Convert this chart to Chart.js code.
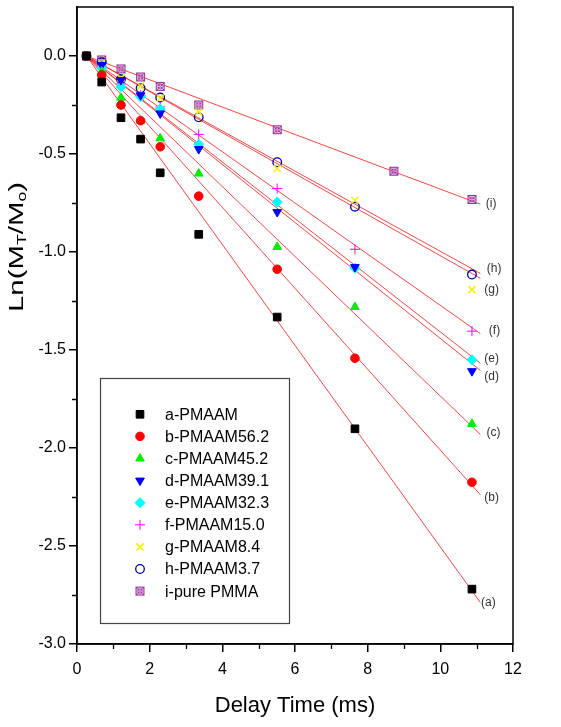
<!DOCTYPE html>
<html><head><meta charset="utf-8">
<script src="https://cdn.jsdelivr.net/npm/chart.js@4/dist/chart.umd.min.js"></script>
<style>html,body{margin:0;padding:0;background:#fff;}canvas{display:block;}</style>
</head><body>
<canvas id="c" width="561" height="727"></canvas>
<script>
// ---------- data ----------
const seriesNames = ['a-PMAAM','b-PMAAM56.2','c-PMAAM45.2','d-PMAAM39.1','e-PMAAM32.3','f-PMAAM15.0','g-PMAAM8.4','h-PMAAM3.7','i-pure PMMA'];
const curveTags = ['(a)','(b)','(c)','(d)','(e)','(f)','(g)','(h)','(i)'];
// delay positions as they sit on the drawn x axis
const delayX     = [0.26, 0.68, 1.21, 1.75, 2.29, 3.35, 5.51, 7.65, 10.87];
const delayXPmma = [0.26, 0.68, 1.21, 1.75, 2.29, 3.35, 5.51, 8.72, 10.87];
const valA = [0, -0.133, -0.315, -0.424, -0.596, -0.910, -1.332, -1.902, -2.720];
const valB = [0, -0.097, -0.250, -0.330, -0.463, -0.715, -1.088, -1.542, -2.175];
const valC = [0, -0.080, -0.213, -0.330, -0.420, -0.600, -0.974, -1.281, -1.877];
const valD = [0, -0.046, -0.123, -0.200, -0.293, -0.475, -0.796, -1.077, -1.608];
const valE = [0, -0.061, -0.157, -0.208, -0.271, -0.450, -0.745, -1.083, -1.550];
const valF = [0, -0.051, -0.143, -0.200, -0.260, -0.400, -0.676, -0.986, -1.404];
const valG = [0, -0.036, -0.112, -0.153, -0.215, -0.286, -0.574, -0.736, -1.192];
const valH = [0, -0.031, -0.118, -0.164, -0.212, -0.313, -0.542, -0.769, -1.115];
const valI = [0, -0.020, -0.066, -0.107, -0.155, -0.250, -0.376, -0.588, -0.732];
// linear fits: start / end
const fitStartX = 0.26;
const fitEndX = 11.1;
const fitEndY = [-2.788, -2.238, -1.931, -1.604, -1.567, -1.416, -1.134, -1.109, -0.756];
// curve tag anchors (data units)
const tagX = [11.32, 11.41, 11.46, 11.41, 11.41, 11.49, 11.41, 11.48, 11.40];
const tagY = [-2.791, -2.255, -1.923, -1.638, -1.546, -1.403, -1.194, -1.087, -0.755];
const xTickStep = 2, yTickStep = 0.5;
const xRange = [0, 12], yRange = [-3.0, 0.25];

// ---------- styles ----------
const allVals = [valA,valB,valC,valD,valE,valF,valG,valH,valI];
const allX = [delayX,delayX,delayX,delayX,delayX,delayX,delayX,delayX,delayXPmma];

function pmmaMarker(){
  const c = document.createElement('canvas'); c.width = 11; c.height = 11;
  const g = c.getContext('2d');
  g.strokeStyle = '#993399'; g.lineWidth = 1;
  g.fillStyle = 'rgba(235,190,235,0.45)';
  g.fillRect(1,1,9,9);
  g.strokeRect(1.5,1.5,8,8);
  g.beginPath(); g.moveTo(1.5,1.5); g.lineTo(9.5,9.5); g.moveTo(9.5,1.5); g.lineTo(1.5,9.5); g.stroke();
  g.beginPath(); g.arc(5.5,5.5,2.5,0,Math.PI*2); g.stroke();
  return c;
}
const markerStyles = [
  {pointStyle:'rect', radius:5.4, rotation:0, fill:'#000000', stroke:'#000000', bw:1},
  {pointStyle:'circle', radius:4.3, rotation:0, fill:'#ff0000', stroke:'#ff0000', bw:1},
  {pointStyle:'triangle', radius:5, rotation:0, fill:'#00ee00', stroke:'#00ee00', bw:1},
  {pointStyle:'triangle', radius:5, rotation:180, fill:'#0000ff', stroke:'#0000ff', bw:1},
  {pointStyle:'rectRot', radius:5, rotation:0, fill:'#00ffff', stroke:'#00ffff', bw:1},
  {pointStyle:'cross', radius:5, rotation:0, fill:'#ff00ff', stroke:'#ff00ff', bw:1},
  {pointStyle:'crossRot', radius:5, rotation:0, fill:'#f0f000', stroke:'#f0f000', bw:1.5},
  {pointStyle:'circle', radius:4.3, rotation:0, fill:'rgba(255,255,255,0)', stroke:'#000099', bw:1.3},
  {pointStyle:pmmaMarker(), radius:5, rotation:0, fill:'#993399', stroke:'#993399', bw:1}
];

const datasets = [];
allVals.forEach((vals, k) => {
  const m = markerStyles[k];
  datasets.push({
    label: seriesNames[k],
    data: vals.map((v, j) => ({x: allX[k][j], y: v})),
    showLine: false,
    pointStyle: m.pointStyle, pointRadius: m.radius, pointRotation: m.rotation,
    pointBackgroundColor: m.fill, pointBorderColor: m.stroke, pointBorderWidth: m.bw,
    pointHoverRadius: m.radius
  });
});
fitEndY.forEach((ye, k) => {
  datasets.push({
    label: 'fit ' + curveTags[k],
    data: [{x: fitStartX, y: 0}, {x: fitEndX, y: ye}],
    showLine: true, borderColor: 'rgba(235,40,40,0.85)', borderWidth: 1,
    pointRadius: 0, pointHoverRadius: 0, fill: false
  });
});

const decor = {
  id: 'decor',
  beforeDraw(chart) {
    const ctx = chart.ctx;
    ctx.save(); ctx.fillStyle = '#fff'; ctx.fillRect(0,0,chart.width,chart.height); ctx.restore();
  },
  afterDraw(chart) {
    const ctx = chart.ctx, a = chart.chartArea;
    const xs = chart.scales.x, ys = chart.scales.y;
    ctx.save();
    // frame
    ctx.strokeStyle = '#000'; ctx.lineWidth = 1.5;
    ctx.strokeRect(a.left, a.top, a.right - a.left, a.bottom - a.top);
    // minor ticks
    ctx.lineWidth = 1.3;
    ctx.beginPath();
    for (let v = xRange[0] + xTickStep/2; v < xRange[1]; v += xTickStep) {
      const px = Math.round(xs.getPixelForValue(v)) + 0.5;
      ctx.moveTo(px, a.bottom); ctx.lineTo(px, a.bottom + 5);
    }
    for (let v = yRange[0] + yTickStep/2; v < yRange[1] - 0.01; v += yTickStep) {
      const py = Math.round(ys.getPixelForValue(v)) + 0.5;
      ctx.moveTo(a.left, py); ctx.lineTo(a.left - 5, py);
    }
    ctx.stroke();
    // curve tags
    ctx.fillStyle = '#333'; ctx.font = '12px "Liberation Sans", Arial, sans-serif';
    ctx.textAlign = 'center'; ctx.textBaseline = 'middle';
    curveTags.forEach((t, k) => ctx.fillText(t, xs.getPixelForValue(tagX[k]), ys.getPixelForValue(tagY[k])));
    // legend
    ctx.strokeStyle = '#444'; ctx.lineWidth = 1.2;
    ctx.strokeRect(100.5, 378.5, 189, 245);
    ctx.font = '16px "Liberation Sans", Arial, sans-serif';
    ctx.textAlign = 'left';
    seriesNames.forEach((n, k) => {
      const m = markerStyles[k];
      const y = 414.3 + k * 22.1;
      ctx.fillStyle = m.fill; ctx.strokeStyle = m.stroke; ctx.lineWidth = m.bw;
      Chart.helpers.drawPoint(ctx, {pointStyle: m.pointStyle, radius: m.radius, rotation: m.rotation, borderWidth: m.bw}, 140, y);
      ctx.fillStyle = '#000';
      ctx.fillText(n, 165, y + 1);
    });
    // y title with subscripts
    const parts = [['Ln(M',0],['T',1],['/M',0],['o',1],[')',0]];
    const fMain = '20px "Liberation Sans", Arial, sans-serif', fSub = '12px "Liberation Sans", Arial, sans-serif';
    let total = 0;
    parts.forEach(p => { ctx.font = p[1] ? fSub : fMain; total += ctx.measureText(p[0]).width; });
    const targetLen = 130, sx = targetLen / total;
    ctx.translate(16, 247);
    ctx.rotate(-Math.PI/2);
    ctx.scale(sx, 1);
    ctx.fillStyle = '#000'; ctx.textAlign = 'left'; ctx.textBaseline = 'alphabetic';
    let cx = -total/2;
    parts.forEach(p => {
      ctx.font = p[1] ? fSub : fMain;
      ctx.fillText(p[0], cx, p[1] ? 10 : 7);
      cx += ctx.measureText(p[0]).width;
    });
    ctx.restore();
  }
};

Chart.defaults.font.family = '"Liberation Sans", Arial, sans-serif';
new Chart(document.getElementById('c'), {
  type: 'scatter',
  data: {datasets},
  options: {
    responsive: false, animation: false, devicePixelRatio: 1,
    layout: {padding: {top: 7, right: 48, left: 0, bottom: 0}},
    plugins: {legend: {display: false}, tooltip: {enabled: false}},
    scales: {
      x: {
        type: 'linear', min: xRange[0], max: xRange[1],
        ticks: {stepSize: xTickStep, color: '#000', font: {size: 16}, padding: 8, maxRotation: 0,
                callback: v => String(v)},
        grid: {display: true, drawOnChartArea: false, drawTicks: true, tickLength: 8, color: '#000', lineWidth: 1.5},
        border: {display: true, color: '#000', width: 1.5},
        title: {display: true, text: 'Delay Time (ms)', color: '#000', font: {size: 22}, padding: {top: 0, bottom: 8}},
        afterFit(s) { s.height = 83; s.paddingLeft = 0; s.paddingRight = 0; }
      },
      y: {
        type: 'linear', min: yRange[0], max: yRange[1],
        ticks: {stepSize: yTickStep, includeBounds: false, color: '#000', font: {size: 16}, padding: 3,
                callback: v => (Math.abs(v) < 1e-9 ? 0 : v).toFixed(1)},
        afterBuildTicks(s) { s.ticks = s.ticks.filter(t => Math.abs(t.value * 2 - Math.round(t.value * 2)) < 1e-9); },
        grid: {display: true, drawOnChartArea: false, drawTicks: true, tickLength: 8, color: '#000', lineWidth: 1.5},
        border: {display: true, color: '#000', width: 1.5},
        afterFit(s) { s.width = 77; s.paddingTop = 0; s.paddingBottom = 0; }
      }
    }
  },
  plugins: [decor]
});
</script>
</body></html>
